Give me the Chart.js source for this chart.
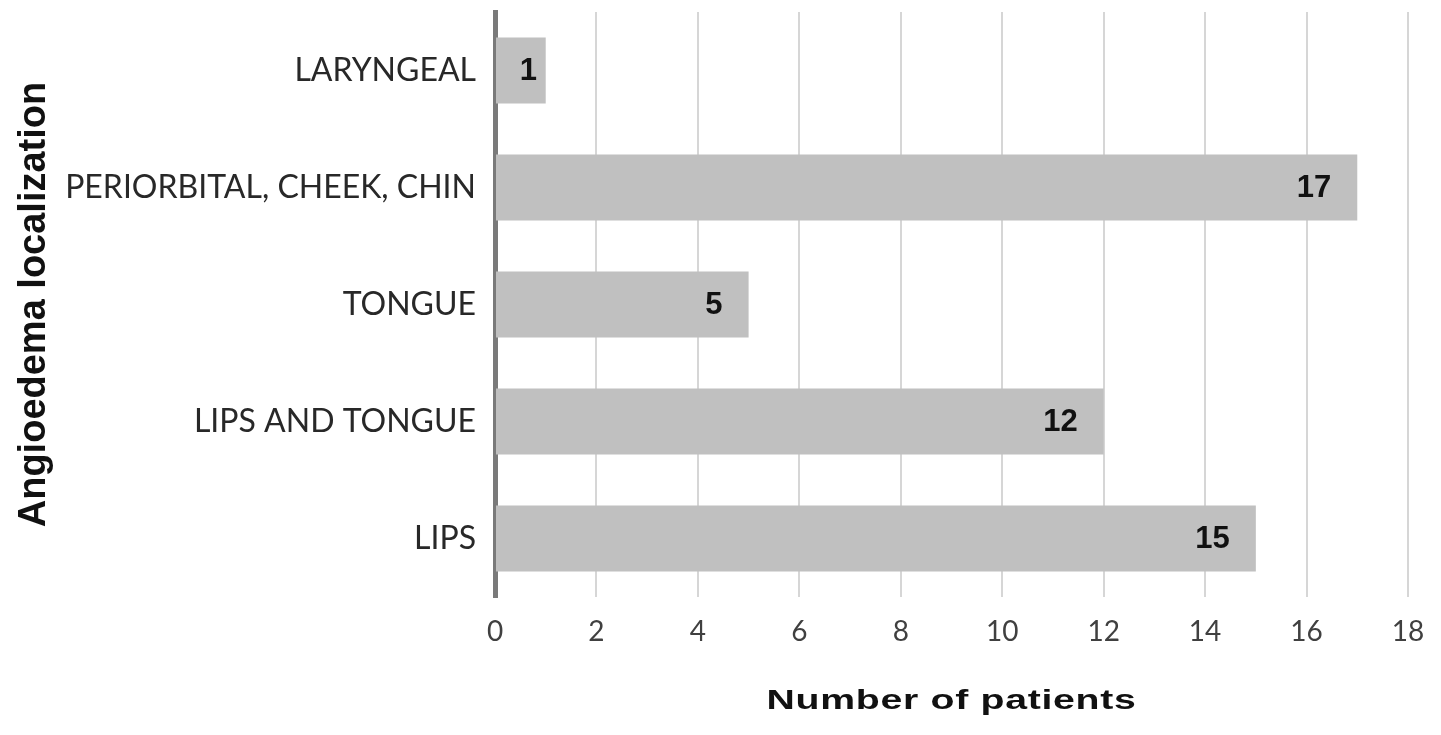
<!DOCTYPE html>
<html>
<head>
<meta charset="utf-8">
<script src="https://cdn.jsdelivr.net/npm/chart.js@4/dist/chart.umd.min.js"></script>
<style>
  html, body { margin: 0; padding: 0; background: #ffffff; }
  #wrap { width: 1441px; height: 735px; }
</style>
</head>
<body>
<div id="wrap"><canvas id="c" width="1441" height="735"></canvas></div>
<script>
// ---- data ----
const categories = ["LARYNGEAL", "PERIORBITAL, CHEEK, CHIN", "TONGUE", "LIPS AND TONGUE", "LIPS"];
const patients = [1, 17, 5, 12, 15];
const xTitle = "Number of patients";
const yTitle = "Angioedema localization";
const xMin = 0, xMax = 18, xStep = 2;

// draws the value labels inside the end of each bar
const valueLabels = {
  id: 'valueLabels',
  afterDatasetsDraw(chart) {
    const ctx = chart.ctx;
    const meta = chart.getDatasetMeta(0);
    const ds = chart.data.datasets[0];
    ctx.save();
    ctx.font = 'bold 31px "Liberation Sans", Arial, sans-serif';
    ctx.fillStyle = '#111111';
    ctx.textAlign = 'right';
    ctx.textBaseline = 'middle';
    meta.data.forEach((bar, i) => {
      const right = Math.max(bar.x - 26, bar.base + 41);
      ctx.fillText(String(ds.data[i]), right, bar.y + 1);
    });
    ctx.restore();
  }
};

// widen the x axis title as in the reference
const wideTitle = {
  id: 'wideTitle',
  beforeDraw(chart) {
    const s = chart.scales.x;
    if (s && !s.__wide) {
      const orig = s.drawTitle;
      s.drawTitle = function () {
        const ctx = this.ctx;
        const cx = (this.left + this.right) / 2;
        ctx.save();
        try { ctx.letterSpacing = '0.5px'; } catch (e) {}
        ctx.translate(cx, 0);
        ctx.scale(1.4, 1);
        ctx.translate(-cx, 0);
        orig.call(this);
        ctx.restore();
      };
      s.__wide = true;
    }
  }
};

new Chart(document.getElementById('c'), {
  type: 'bar',
  data: {
    labels: categories,
    datasets: [{
      data: patients,
      backgroundColor: '#c0c0c0',
      borderWidth: 0,
      barPercentage: 0.565,
      categoryPercentage: 1.0
    }]
  },
  options: {
    indexAxis: 'y',
    responsive: false,
    animation: false,
    devicePixelRatio: 1,
    layout: { padding: { top: 12, right: 33, left: 0, bottom: 0 } },
    plugins: {
      legend: { display: false },
      tooltip: { enabled: false },
      title: { display: false }
    },
    scales: {
      x: {
        type: 'linear',
        min: xMin,
        max: xMax,
        afterFit(scale) { scale.height = 138; scale.paddingLeft = 0; scale.paddingRight = 0; },
        ticks: {
          stepSize: xStep,
          padding: 18,
          color: '#404040',
          font: { family: 'Lato, "Open Sans", sans-serif', size: 28 }
        },
        grid: {
          display: true,
          color: '#d6d6d6',
          lineWidth: 2,
          drawTicks: false
        },
        border: { display: false },
        title: {
          display: true,
          text: xTitle,
          color: '#111111',
          font: { family: '"Liberation Sans", Arial, sans-serif', size: 28, weight: 'bold' },
          padding: { top: 0, bottom: 17 }
        }
      },
      y: {
        z: 1,
        afterFit(scale) { scale.width = 495; scale.paddingTop = 0; scale.paddingBottom = 0; },
        ticks: {
          padding: 19,
          color: '#282828',
          font: { family: 'Lato, "Open Sans", sans-serif', size: 32 }
        },
        grid: { display: false, drawTicks: false },
        border: { display: true, color: '#7a7a7a', width: 5 },
        title: {
          display: true,
          text: yTitle,
          color: '#111111',
          font: { family: '"Liberation Sans", Arial, sans-serif', size: 38, weight: 'bold' },
          padding: { top: 12, bottom: 0 }
        }
      }
    }
  },
  plugins: [valueLabels, wideTitle]
});
</script>
</body>
</html>
